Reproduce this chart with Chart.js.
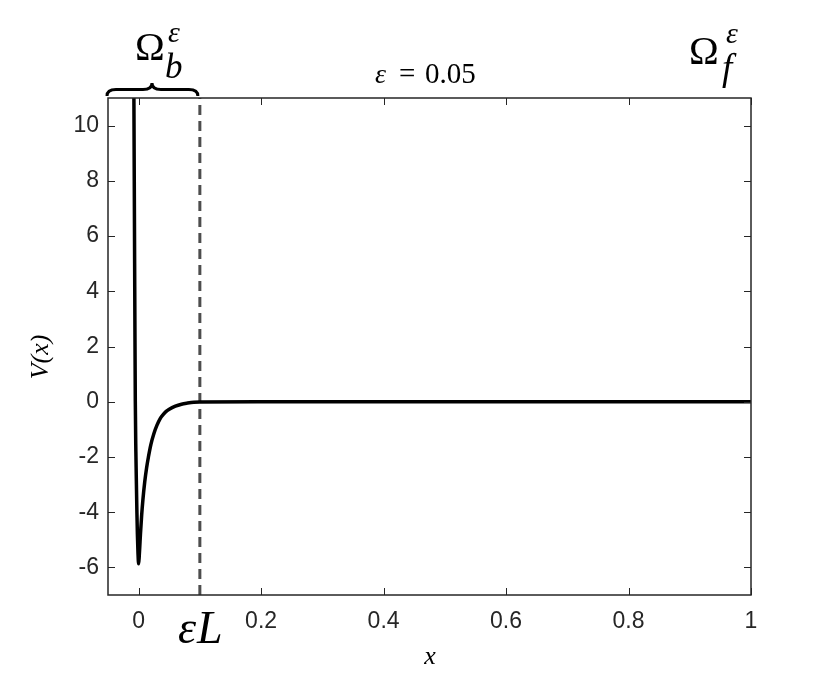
<!DOCTYPE html>
<html>
<head>
<meta charset="utf-8">
<script src="https://cdn.jsdelivr.net/npm/chart.js@4"></script>
<style>
  html, body { margin: 0; padding: 0; background: #fff; }
  #c { display: block; }
</style>
</head>
<body>
<canvas id="c" width="830" height="675"></canvas>
<script>
// potential V(x)
var xs = [-0.0080, -0.0077, -0.0071, -0.0065, -0.0060, -0.0054, -0.0045, -0.0036, -0.0028, -0.0020, -0.0010, 0,
          0.001, 0.002, 0.003, 0.005, 0.007, 0.010, 0.013, 0.016, 0.020, 0.025, 0.030, 0.035, 0.040, 0.045,
          0.050, 0.060, 0.070, 0.080, 0.090, 0.100, 0.2, 0.4, 0.6, 0.8, 1.0];
var vs = [12.5, 11, 8, 5, 2.5, 0, -1.8, -3.0, -4.0, -4.8, -5.5, -5.87,
          -5.6, -5.2, -4.8, -4.1, -3.55, -2.9, -2.4, -2.0, -1.55, -1.15, -0.85, -0.62, -0.47, -0.35,
          -0.27, -0.16, -0.09, -0.05, -0.02, -0.01, 0, 0, 0, 0, 0];
var epsL = 0.1;
var xTicks = [0, 0.2, 0.4, 0.6, 0.8, 1];
var xTickLabels = ['0', '0.2', '0.4', '0.6', '0.8', '1'];
var yTicks = [-6, -4, -2, 0, 2, 4, 6, 8, 10];
var xRange = [-0.05, 1];
var yRange = [-7, 11];

var axisColor = '#262626';
var sans = '"Liberation Sans", Arial, sans-serif';
var serif = '"Liberation Serif", "DejaVu Serif", serif';

// inward ticks on all four sides + box, plus the LaTeX-ish annotations
var decor = {
  id: 'decor',
  afterDraw: function(chart) {
    var ctx = chart.ctx, a = chart.chartArea;
    var sx = chart.scales.x, sy = chart.scales.y;
    var tl = 7;
    ctx.save();
    ctx.strokeStyle = axisColor;
    ctx.lineWidth = 1;
    ctx.beginPath();
    xTicks.forEach(function(v) {
      var p = Math.round(sx.getPixelForValue(v)) + 0.5;
      ctx.moveTo(p, a.bottom); ctx.lineTo(p, a.bottom - tl);
      ctx.moveTo(p, a.top); ctx.lineTo(p, a.top + tl);
    });
    yTicks.forEach(function(v) {
      var p = Math.round(sy.getPixelForValue(v)) + 0.5;
      ctx.moveTo(a.left, p); ctx.lineTo(a.left + tl, p);
      ctx.moveTo(a.right, p); ctx.lineTo(a.right - tl, p);
    });
    ctx.stroke();
    ctx.lineWidth = 1.5;
    ctx.strokeRect(a.left, a.top, a.right - a.left, a.bottom - a.top);

    // brace over Omega_b
    var x1 = a.left - 1, x2 = sx.getPixelForValue(epsL) - 2, xm = 152;
    var yb = 96, yt = 83, ym = 89.5, q = 9;
    ctx.strokeStyle = '#000';
    ctx.lineWidth = 3;
    ctx.beginPath();
    ctx.moveTo(x1, yb);
    ctx.quadraticCurveTo(x1, ym, x1 + q, ym);
    ctx.lineTo(xm - q, ym);
    ctx.quadraticCurveTo(xm, ym, xm, yt);
    ctx.quadraticCurveTo(xm, ym, xm + q, ym);
    ctx.lineTo(x2 - q, ym);
    ctx.quadraticCurveTo(x2, ym, x2, yb);
    ctx.stroke();

    ctx.fillStyle = '#000';
    ctx.textBaseline = 'alphabetic';
    ctx.textAlign = 'left';
    // Omega_b^eps
    ctx.font = '40px ' + serif;
    ctx.fillText('\u03A9', 135, 60);
    ctx.font = 'italic 35px ' + serif;
    ctx.fillText('b', 165, 78);
    ctx.font = 'italic 30px ' + serif;
    ctx.fillText('\u03B5', 168, 42);
    // Omega_f^eps
    ctx.font = '40px ' + serif;
    ctx.fillText('\u03A9', 689, 64);
    ctx.font = 'italic 37px ' + serif;
    ctx.fillText('f', 722, 80);
    ctx.font = 'italic 30px ' + serif;
    ctx.fillText('\u03B5', 726, 43);
    // eps L under the axis
    ctx.font = 'italic 46px ' + serif;
    ctx.fillText('\u03B5', 178, 643);
    ctx.fillText('L', 197, 643);
    // title
    ctx.font = 'italic 28px ' + serif;
    ctx.fillText('\u03B5', 375, 83);
    ctx.font = '29px ' + serif;
    ctx.fillText('=', 399, 83);
    ctx.fillText('0.05', 425, 83);
    // axis labels
    ctx.textAlign = 'center';
    ctx.font = 'italic 26px ' + serif;
    ctx.fillText('x', 430, 664);
    ctx.translate(48, 357);
    ctx.rotate(-Math.PI / 2);
    ctx.fillText('V(x)', 0, 0);
    ctx.restore();
  }
};

new Chart(document.getElementById('c'), {
  type: 'line',
  data: {
    datasets: [{
      data: xs.map(function(x, i) { return { x: x, y: vs[i] }; }),
      borderColor: '#000',
      borderWidth: 3.5,
      pointRadius: 0,
      cubicInterpolationMode: 'monotone',
      fill: false
    }, {
      data: [{ x: epsL, y: yRange[0] }, { x: epsL, y: yRange[1] }],
      borderColor: '#4d4d4d',
      borderWidth: 3,
      borderDash: [10, 6],
      pointRadius: 0,
      fill: false
    }]
  },
  options: {
    responsive: false,
    animation: false,
    layout: { padding: { top: 98, right: 79, bottom: 0, left: 0 } },
    plugins: { legend: { display: false }, tooltip: { enabled: false }, title: { display: false } },
    scales: {
      x: {
        type: 'linear', min: xRange[0], max: xRange[1],
        afterBuildTicks: function(s) { s.ticks = xTicks.map(function(v) { return { value: v }; }); },
        afterFit: function(s) { s.height = 80; },
        grid: { display: false, drawTicks: false },
        border: { display: false },
        ticks: { padding: 13, color: axisColor, font: { family: sans, size: 23 },
                 maxRotation: 0, autoSkip: false,
                 callback: function(v) { var i = xTicks.indexOf(v); return i < 0 ? '' : xTickLabels[i]; } }
      },
      y: {
        type: 'linear', min: yRange[0], max: yRange[1],
        afterBuildTicks: function(s) { s.ticks = yTicks.map(function(v) { return { value: v }; }); },
        afterFit: function(s) { s.width = 108; },
        grid: { display: false, drawTicks: false },
        border: { display: false },
        ticks: { padding: 9, color: axisColor, font: { family: sans, size: 23 },
                 autoSkip: false }
      }
    }
  },
  plugins: [decor]
});
</script>
</body>
</html>
